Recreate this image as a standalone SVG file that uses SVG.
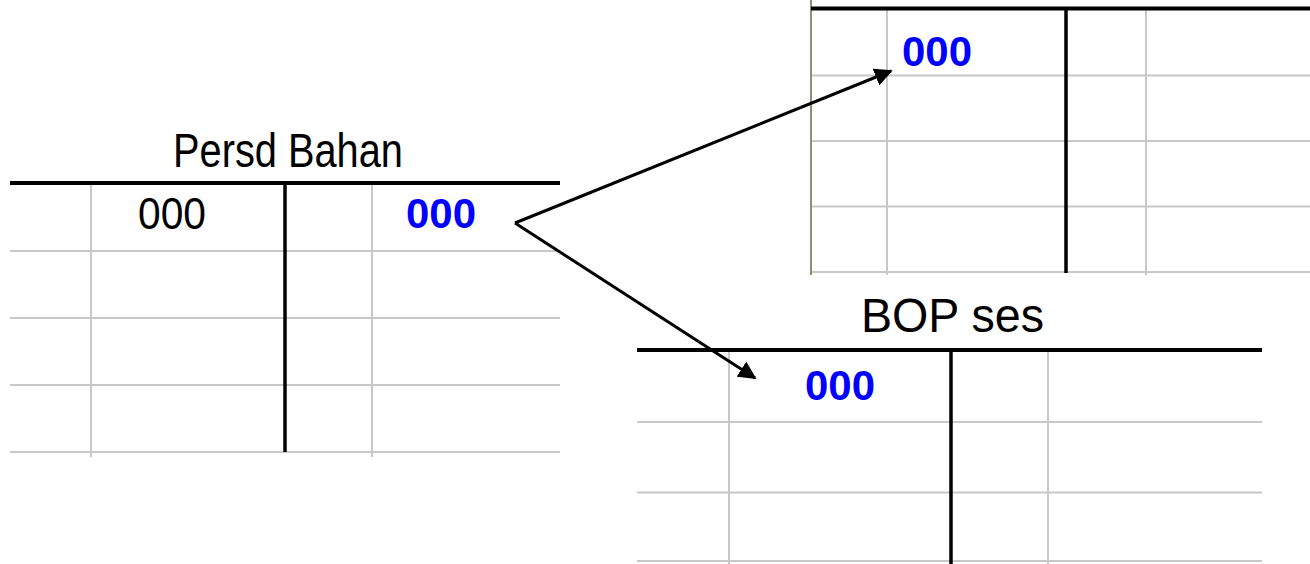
<svg xmlns="http://www.w3.org/2000/svg" width="1310" height="564" viewBox="0 0 1310 564">
  <style>
    .grid { stroke: #c8c8c8; stroke-width: 2; fill: none; }
    .rule { stroke: #000; stroke-width: 4; fill: none; }
    .tbar { stroke: #000; stroke-width: 3.5; fill: none; }
    .edge { stroke: #8f8f78; stroke-width: 2; fill: none; }
    .title { font-family: "Liberation Sans", Arial, sans-serif; font-size: 49px; fill: #000; }
    .plain { font-family: "Liberation Sans", Arial, sans-serif; font-size: 44px; fill: #000; }
    .amt { font-family: "Liberation Sans", Arial, sans-serif; font-size: 42px; font-weight: bold; fill: #0000ff; }
    .link { stroke: #000; stroke-width: 3; fill: none; stroke-linejoin: miter; }
  </style>
  <defs>
    <marker id="arrowhead" viewBox="0 0 10 10" refX="9" refY="5" markerWidth="6" markerHeight="6" orient="auto" markerUnits="strokeWidth">
      <path d="M0,0 L10,5 L0,10 Z" fill="#000"/>
    </marker>
  </defs>
  <rect width="1310" height="564" fill="#fff"/>

  <!-- T-account: Persd Bahan -->
  <g id="persd-bahan">
    <line class="grid" x1="10" y1="251" x2="560" y2="251"/>
    <line class="grid" x1="10" y1="318" x2="560" y2="318"/>
    <line class="grid" x1="10" y1="385" x2="560" y2="385"/>
    <line class="grid" x1="10" y1="452" x2="560" y2="452"/>
    <line class="grid" x1="91" y1="183" x2="91" y2="457"/>
    <line class="grid" x1="372" y1="183" x2="372" y2="457"/>
    <line class="rule" x1="10" y1="183" x2="560" y2="183"/>
    <line class="tbar" x1="285" y1="183" x2="285" y2="452"/>
    <text class="title" x="173" y="167" textLength="230" lengthAdjust="spacingAndGlyphs">Persd Bahan</text>
    <text class="plain" x="138" y="229" textLength="68" lengthAdjust="spacingAndGlyphs">000</text>
    <text class="amt" x="406" y="228">000</text>
  </g>

  <!-- T-account: top right -->
  <g id="account-top">
    <line class="grid" x1="811" y1="75.5" x2="1310" y2="75.5"/>
    <line class="grid" x1="811" y1="141" x2="1310" y2="141"/>
    <line class="grid" x1="811" y1="206.5" x2="1310" y2="206.5"/>
    <line class="grid" x1="811" y1="272" x2="1310" y2="272"/>
    <line class="grid" x1="887" y1="8" x2="887" y2="275"/>
    <line class="grid" x1="1146" y1="8" x2="1146" y2="275"/>
    <line class="edge" x1="811" y1="0" x2="811" y2="275"/>
    <line class="rule" x1="811" y1="8.5" x2="1310" y2="8.5"/>
    <line class="tbar" x1="1066" y1="8" x2="1066" y2="273"/>
    <text class="amt" x="902" y="66">000</text>
  </g>

  <!-- T-account: BOP ses -->
  <g id="bop-ses">
    <line class="grid" x1="637" y1="422" x2="1262" y2="422"/>
    <line class="grid" x1="637" y1="492.5" x2="1262" y2="492.5"/>
    <line class="grid" x1="637" y1="561" x2="1262" y2="561"/>
    <line class="grid" x1="729" y1="350" x2="729" y2="564"/>
    <line class="grid" x1="1048" y1="350" x2="1048" y2="564"/>
    <line class="rule" x1="637" y1="350" x2="1262" y2="350"/>
    <line class="tbar" x1="951" y1="350" x2="951" y2="564"/>
    <text class="title" x="861" y="332" textLength="183" lengthAdjust="spacingAndGlyphs">BOP ses</text>
    <text class="amt" x="805" y="400">000</text>
  </g>

  <!-- Postings from Persd Bahan to the two accounts -->
  <g id="connectors">
    <line class="link" x1="515" y1="223" x2="891" y2="71" marker-end="url(#arrowhead)"/>
    <line class="link" x1="515" y1="223" x2="755" y2="378" marker-end="url(#arrowhead)"/>
  </g>
</svg>
